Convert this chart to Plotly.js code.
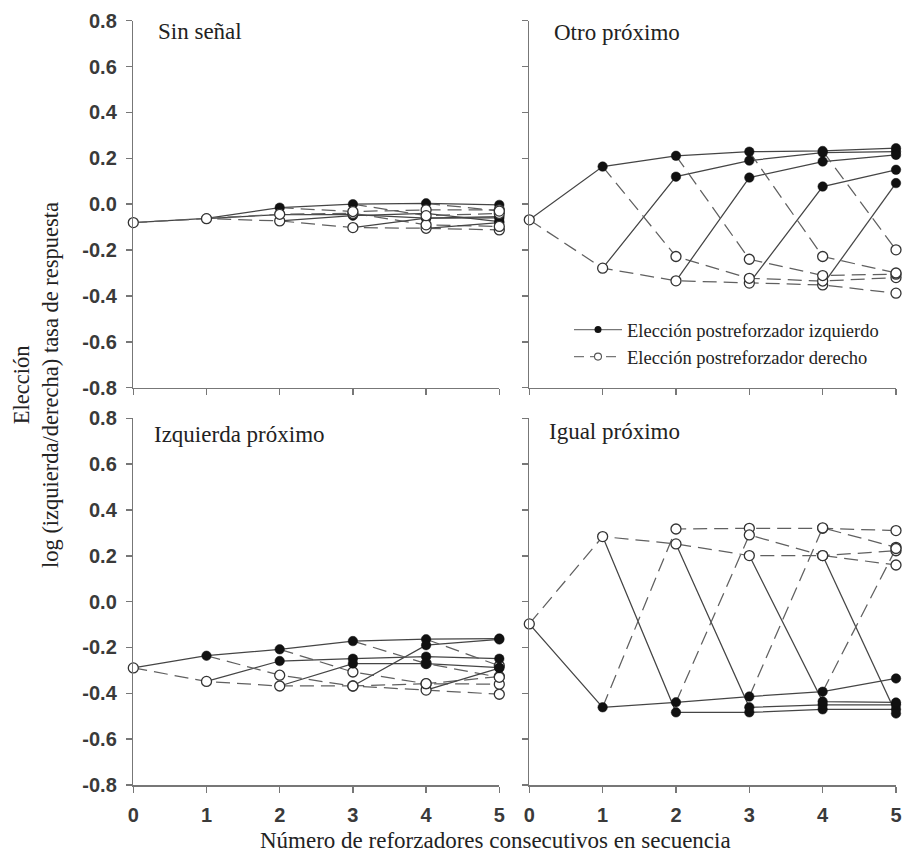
<!DOCTYPE html>
<html><head><meta charset="utf-8">
<script src="https://cdn.plot.ly/plotly-3.0.1.min.js"></script>
<style>html,body{margin:0;padding:0;background:#fff}#chart{width:905px;height:856px}</style>
</head><body><div id="chart"></div>
<script>
// ---------- data ----------
const steps = [0, 1, 2, 3, 4, 5];
const tickVals = [-0.8, -0.6, -0.4, -0.2, 0, 0.2, 0.4, 0.6, 0.8];
const tickText = ['-0.8', '-0.6', '-0.4', '-0.2', '0.0', '0.2', '0.4', '0.6', '0.8'];
const xTickText = ['0', '1', '2', '3', '4', '5'];
const panelTitles = ['Sin señal', 'Otro próximo', 'Izquierda próximo', 'Igual próximo'];
const legendNames = ['Elección postreforzador izquierdo', 'Elección postreforzador derecho'];
const yTitle = 'Elección<br>log (izquierda/derecha) tasa de respuesta';
const xTitle = 'Número de reforzadores consecutivos en secuencia';

// Each "left" run j: j right reinforcers then left ones (values from step j+1 to 5).
// Each "right" run j: j left reinforcers then right ones (values from step j+1 to 5).
// Sin señal
const sinStart = -0.08;
const sinLeft = [
  [-0.062, -0.015, 0.0, 0.004, -0.003],
  [-0.045, -0.045, -0.061, -0.054],
  [-0.05, -0.04, -0.076],
  [-0.061, -0.06],
  [-0.08]
];
const sinRight = [
  [-0.063, -0.073, -0.102, -0.105, -0.112],
  [-0.044, -0.04, -0.09, -0.097],
  [-0.032, -0.025, -0.025],
  [-0.05, -0.04],
  [-0.03]
];
// Otro próximo
const otroStart = -0.068;
const otroLeft = [
  [0.164, 0.211, 0.229, 0.232, 0.244],
  [0.120, 0.190, 0.225, 0.229],
  [0.116, 0.186, 0.215],
  [0.077, 0.150],
  [0.092]
];
const otroRight = [
  [-0.279, -0.334, -0.344, -0.352, -0.388],
  [-0.228, -0.323, -0.335, -0.32],
  [-0.240, -0.311, -0.305],
  [-0.228, -0.30],
  [-0.199]
];
// Izquierda próximo
const izqStart = -0.289;
const izqLeft = [
  [-0.236, -0.208, -0.172, -0.164, -0.161],
  [-0.259, -0.249, -0.24, -0.249],
  [-0.27, -0.27, -0.288],
  [-0.19, -0.165],
  [-0.29]
];
const izqRight = [
  [-0.348, -0.368, -0.368, -0.386, -0.404],
  [-0.321, -0.368, -0.358, -0.36],
  [-0.307, -0.358, -0.327],
  [-0.27, -0.33],
  [-0.28]
];
// Igual próximo
const igualStart = -0.097;
const igualLeft = [
  [-0.461, -0.439, -0.414, -0.393, -0.335],
  [-0.483, -0.483, -0.47, -0.47],
  [-0.461, -0.45, -0.45],
  [-0.436, -0.44],
  [-0.488]
];
const igualRight = [
  [0.284, 0.252, 0.201, 0.201, 0.16],
  [0.317, 0.320, 0.320, 0.310],
  [0.291, 0.201, 0.222],
  [0.322, 0.237],
  [0.232]
];

// ---------- styles ----------
const solidLine = {color: '#454545', width: 1.25};
const dashLine = {color: '#606060', width: 1.25, dash: '14px,7px'};
const filledMarker = {symbol: 'circle', size: 9.5, color: '#111111', line: {color: '#111111', width: 0.5}};
const openMarker = {symbol: 'circle', size: 10, color: '#ffffff', line: {color: '#333333', width: 1.3}};

function panel(start, leftRuns, rightRuns, xa, ya, openOnTop) {
  const lines = [], fx = [], fy = [], ox = [0], oy = [start];
  for (let j = 0; j < 5; j++) {
    const pL = j === 0 ? start : rightRuns[0][j - 1];
    lines.push({x: steps.slice(j), y: [pL].concat(leftRuns[j]), mode: 'lines', line: solidLine,
      xaxis: xa, yaxis: ya, showlegend: false, hoverinfo: 'skip', cliponaxis: false});
    const pR = j === 0 ? start : leftRuns[0][j - 1];
    lines.push({x: steps.slice(j), y: [pR].concat(rightRuns[j]), mode: 'lines', line: dashLine,
      xaxis: xa, yaxis: ya, showlegend: false, hoverinfo: 'skip', cliponaxis: false});
    leftRuns[j].forEach((v, i) => { fx.push(steps[j + 1 + i]); fy.push(v); });
    rightRuns[j].forEach((v, i) => { ox.push(steps[j + 1 + i]); oy.push(v); });
  }
  const openT = {x: ox, y: oy, mode: 'markers', marker: openMarker, xaxis: xa, yaxis: ya,
    showlegend: false, hoverinfo: 'skip', cliponaxis: false};
  const filledT = {x: fx, y: fy, mode: 'markers', marker: filledMarker, xaxis: xa, yaxis: ya,
    showlegend: false, hoverinfo: 'skip', cliponaxis: false};
  return openOnTop ? lines.concat([filledT, openT]) : lines.concat([openT, filledT]);
}

let data = [];
data = data.concat(panel(sinStart, sinLeft, sinRight, 'x', 'y', true));
data = data.concat(panel(otroStart, otroLeft, otroRight, 'x2', 'y2', true));
data = data.concat(panel(izqStart, izqLeft, izqRight, 'x3', 'y3', false));
data = data.concat(panel(igualStart, igualLeft, igualRight, 'x4', 'y4', true));
data.push({x: [null], y: [null], mode: 'lines+markers', name: legendNames[0], line: {color: '#777777', width: 1.25},
  marker: {symbol: 'circle', size: 7, color: '#111111'}, xaxis: 'x2', yaxis: 'y2', showlegend: true});
data.push({x: [null], y: [null], mode: 'lines+markers', name: legendNames[1], line: {color: '#777777', width: 1.25, dash: '10px,6px'},
  marker: {symbol: 'circle', size: 7, color: '#ffffff', line: {color: '#555555', width: 1.1}}, xaxis: 'x2', yaxis: 'y2', showlegend: true});

const W = 905, H = 856;
const px = v => v / W, py = v => 1 - v / H;
const tickFont = {family: 'Liberation Sans, Arial, sans-serif', size: 20, color: '#3a3a3a', weight: 'bold'};
const serif = 'Liberation Serif, Times New Roman, serif';

function xAxis(domain, labels, anchor) {
  return {domain: domain, range: [0, 5], anchor: anchor, showline: true, linecolor: '#777777', linewidth: 1.5,
    ticks: 'outside', ticklen: 6, tickwidth: 1.5, tickcolor: '#777777', tickvals: steps,
    ticktext: xTickText, showticklabels: labels, showgrid: false, zeroline: false, tickfont: tickFont,
    ticklabelstandoff: 5, fixedrange: true};
}
function yAxis(domain, labels, anchor) {
  return {domain: domain, range: [-0.8, 0.8], anchor: anchor, showline: true, linecolor: '#777777', linewidth: 1.5,
    ticks: 'outside', ticklen: 6, tickwidth: 1.5, tickcolor: '#777777', tickvals: tickVals,
    ticktext: tickText, showticklabels: labels, showgrid: false, zeroline: false, tickfont: tickFont,
    ticklabelstandoff: 5, fixedrange: true};
}
const xL = [px(133.3), px(499.3)], xR = [px(529.3), px(896)];
const yT = [py(387.7), py(20.7)], yB = [py(785), py(418.3)];

const titleFont = {family: serif, size: 23, color: '#222222'};
const layout = {
  width: W, height: H, margin: {l: 0, r: 0, t: 0, b: 0},
  paper_bgcolor: '#ffffff', plot_bgcolor: 'rgba(0,0,0,0)',
  xaxis: xAxis(xL, false, 'y'), yaxis: yAxis(yT, true, 'x'),
  xaxis2: xAxis(xR, false, 'y2'), yaxis2: yAxis(yT, false, 'x2'),
  xaxis3: xAxis(xL, true, 'y3'), yaxis3: yAxis(yB, true, 'x3'),
  xaxis4: xAxis(xR, true, 'y4'), yaxis4: yAxis(yB, false, 'x4'),
  showlegend: true,
  legend: {x: px(569), y: py(311), xanchor: 'left', yanchor: 'top', bgcolor: 'rgba(0,0,0,0)', borderwidth: 0,
    font: {family: serif, size: 18.5, color: '#222222'}, tracegroupgap: 0, itemwidth: 48},
  annotations: [
    {text: panelTitles[0], xref: 'paper', yref: 'paper', x: px(156), y: py(31), xanchor: 'left', yanchor: 'middle', showarrow: false, font: titleFont},
    {text: panelTitles[1], xref: 'paper', yref: 'paper', x: px(552), y: py(33), xanchor: 'left', yanchor: 'middle', showarrow: false, font: titleFont},
    {text: panelTitles[2], xref: 'paper', yref: 'paper', x: px(152), y: py(434), xanchor: 'left', yanchor: 'middle', showarrow: false, font: titleFont},
    {text: panelTitles[3], xref: 'paper', yref: 'paper', x: px(547), y: py(432), xanchor: 'left', yanchor: 'middle', showarrow: false, font: titleFont},
    {text: yTitle, xref: 'paper', yref: 'paper', x: px(36), y: py(385), xanchor: 'center', yanchor: 'middle', textangle: -90, showarrow: false, font: {family: serif, size: 22.5, color: '#222222'}},
    {text: xTitle, xref: 'paper', yref: 'paper', x: px(495), y: py(855), xanchor: 'center', yanchor: 'bottom', showarrow: false, font: {family: serif, size: 23, color: '#222222'}}
  ]
};
Plotly.newPlot('chart', data, layout, {displayModeBar: false, staticPlot: true});
</script></body></html>
